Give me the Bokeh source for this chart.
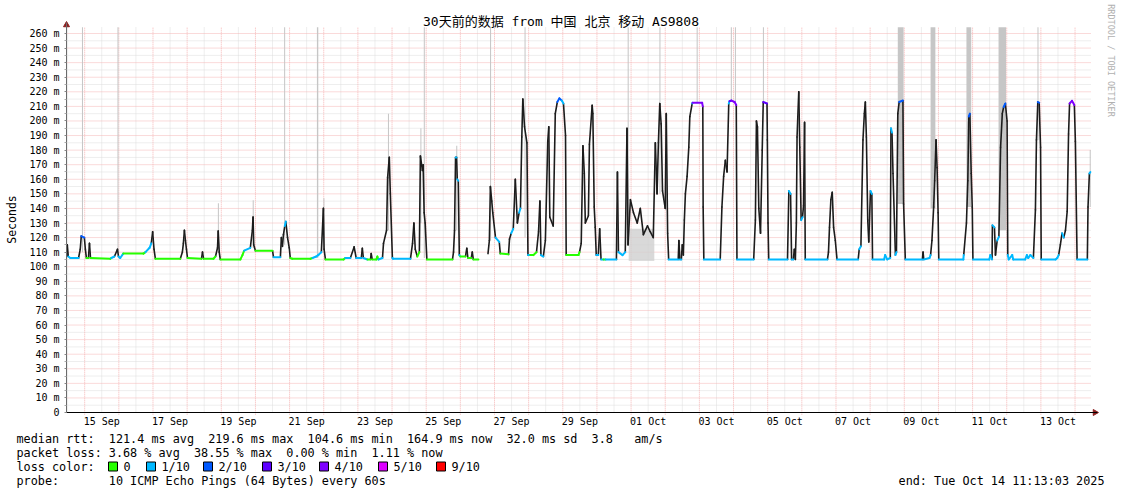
import math
from datetime import datetime, timedelta
from bokeh.plotting import figure
from bokeh.models import Range1d, FixedTicker, Label
from bokeh.embed import file_html
from bokeh.resources import INLINE

# ---------------- data ----------------
TITLE = "30天前的数据 from 中国 北京 移动 AS9808"
END_TIME = datetime(2025, 10, 14, 11, 13, 3)
START_TIME = END_TIME - timedelta(days=30)

# median rtt: day of month counted from Aug 31 00:00 (Oct 1 = 31), rtt in ms, loss level (tenths)
NAN = float("nan")
med_day = [14.48, 14.49, 14.52, 14.58, 14.82, 14.87, 14.90, 14.99, 15.02, 15.05, 15.11, 15.14, 15.17, 15.75,
           15.78, 15.87, 15.96, 15.99, 16.04, 16.13, 16.72, 16.78, 16.90, 16.95, 16.99, 17.03, 17.07, 17.80,
           17.86, 17.89, 17.92, 17.95, 17.98, 18.01, 18.42, 18.45, 18.48, 18.77, 18.83, 18.89, 18.91, 18.94,
           18.97, 19.56, 19.62, 19.67, 19.85, 19.91, 19.93, 19.95, 20.00, 20.50, 20.53, 20.73, 20.76, 20.79,
           20.82, 20.86, 20.89, 20.94, 20.99, 21.02, 21.08, 21.61, 21.67, 21.78, 21.84, 21.93, 21.99, 22.01,
           22.05, 22.58, 22.63, 22.78, 22.89, 22.95, 23.10, 23.13, 23.16, 23.28, 23.37, 23.39, 23.42, 23.54,
           23.57, 23.60, 23.72, 23.75, 23.84, 23.87, 23.92, 23.95, 24.01, 24.03, 24.54, 24.60, 24.64, 24.68,
           24.74, 24.80, 24.83, 24.89, 24.91, 24.94, 24.97, 25.02, 25.77, 25.80, 25.83, 25.86, 25.89, 25.91,
           25.94, 25.97, 26.00, 26.15, 26.19, 26.22, 26.32, 26.35, 26.38, 26.53, NAN,
           26.81, 26.85, 26.88, 26.92, 26.95, 27.03, 27.14, 27.17, 27.41, 27.44, 27.49, 27.55, 27.61, 27.67,
           27.72, 27.76, 27.80, 27.83, 27.88, 27.95, 27.98, 28.05, 28.14, 28.23, 28.29, 28.33, 28.36, 28.43,
           28.49, 28.56, 28.59, 28.62, 28.72, 28.78, 28.84, 28.90, 28.97, 29.02, 29.08, 29.10, 29.46, 29.49,
           29.54, 29.59, 29.63, 29.66, 29.75, 29.78, 29.86, 29.88, 29.92, 29.95, 29.98, 30.04, 30.08, 30.12,
           30.19, 30.25, 30.57, 30.60, 30.63, 30.75, 30.83, 30.88, 30.91, 30.98, 31.07, 31.18, 31.27, 31.36,
           31.48, 31.56, 31.65, 31.71, 31.76, 31.80, 31.84, 31.88, 31.92, 32.00, 32.03, 32.07, 32.10, 32.38,
           32.40, 32.43, 32.47, 32.50, 32.53, 32.56, 32.59, 32.64, 32.69, 32.72, 32.79, 32.80, 33.08, 33.10,
           33.11, 33.13, 33.61, 33.66, 33.71, 33.76, 33.81, 33.86, 33.88, 33.94, 34.03, 34.08, 34.10, 34.59,
           34.64, 34.67, 34.70, 34.74, 34.79, 34.84, 34.87, 34.98, 34.99, 35.01, 35.03, 35.58, 35.62, 35.67,
           35.70, 35.75, 35.78, 35.81, 35.84, 35.86, 35.91, 35.94, 35.98, 36.02, 36.05, 36.08, 36.10, 36.75,
           36.78, 36.81, 36.85, 36.89, 36.93, 36.98, 37.03, 37.65, 37.68, 37.73, 37.79, 37.83, 37.86, 37.89,
           37.93, 37.96, 38.01, 38.05, 38.07, 38.41, 38.44, 38.50, 38.59, 38.61, 38.64, 38.67, 38.74, 38.77,
           38.81, 38.85, 38.96, 38.98, 39.03, 39.53, 39.55, 39.57, 39.74, 39.77, 39.81, 39.86, 39.89, 39.93,
           39.96, 39.99, 40.01, 40.73, 40.74, 40.82, 40.86, 40.89, 40.92, 40.96, 40.99, 41.01, 41.49, 41.52,
           41.57, 41.58, 41.64, 41.67, 41.72, 41.77, 41.82, 41.87, 41.91, 41.96, 42.01, 42.03, 42.06, 42.16,
           42.19, 42.54, 42.59, 42.63, 42.69, 42.78, 42.84, 42.87, 42.91, 42.95, 42.99, 43.01, 43.43, 43.48,
           43.52, 43.57, 43.62, 43.67, 43.72, 43.77, 43.81, 43.84, 43.91, 43.98, 44.01, 44.06, 44.36, 44.38,
           44.42, 44.45]
med_ms = [107, 115, 107, 106, 106, 112, 121, 120, 112, 106, 106, 116, 106, 105.5,
          106, 107, 112, 107, 106, 109, 109, 110, 113, 116, 124, 112, 105.5, 105.5,
          110, 116, 125, 118, 112, 106, 105.5, 110, 105.5, 105.5, 107, 113, 124.5, 110,
          105, 105, 108, 111, 113, 125, 134, 115, 111, 111, 106.5, 106.5, 120, 114,
          122, 128, 131, 120, 113, 106, 105.5, 105.5, 106, 107, 108, 110, 140, 112,
          105, 105, 106, 106, 113.6, 106, 106, 112.7, 106, 105, 105, 109, 105, 105,
          107, 105, 106, 116, 125, 161, 175, 150, 106, 105.5, 105.5, 116, 130, 112,
          107, 110, 176, 166, 170, 137, 130, 105, 105, 110, 125, 175, 175, 160,
          159, 108, 107, 107, 112.7, 106, 106, 110, 105, 105, NAN,
          109, 118, 155, 145, 137, 120, 117, 109, 108.5, 119, 123, 126, 160, 130,
          137, 140, 189, 215, 196, 185, 108, 108, 108, 110, 124, 145, 108, 107,
          118, 186, 196, 134, 128, 205, 213, 215.5, 214, 212, 190, 108, 108, 110,
          116, 183, 164, 130, 135, 184, 210.8, 205, 141, 127, 108, 108, 126, 105,
          105, 105, 105, 165, 110, 108, 110, 195, 115, 146, 137, 130, 140, 122,
          128, 124, 120, 185, 150, 185, 212, 198, 152, 140, 205, 123, 105, 105,
          118, 105, 105, 115, 108, 132, 150, 162, 182, 203, 212, 212.5, 212.5, 210,
          141, 105, 105, 141, 162, 173, 165, 212, 213.5, 214, 213, 211, 105, 105,
          132, 200, 196, 140, 123, 180, 213, 212, 187, 130, 105, 105, 152, 150,
          105, 105, 112, 105, 130, 189, 220, 182, 132, 134, 142, 199, 105, 105,
          110, 127, 146, 151, 127, 118, 105, 105, 112, 114, 187, 205, 213, 189,
          132, 117, 152, 150, 105, 105, 108, 105, 106, 195, 192, 164, 108, 110,
          205, 213, 214, 143, 105, 105, 110, 105, 106, 108, 118, 141, 159, 187,
          168, 137, 105, 105, 108, 130, 159, 203, 205, 164, 141, 105, 105, 108,
          105, 128.5, 127, 108, 118, 120.5, 182, 205, 209.6, 212, 200, 108, 105, 108,
          105, 105, 108, 106, 108, 106, 139, 187, 213, 212.5, 182, 105, 105, 106,
          108, 115, 123, 120, 125, 138, 191, 212, 213.8, 211, 186, 105, 105, 141,
          164, 165]
med_loss = [1, 1, 1, 1, 1, 1, 2, 1, 1, 0, 0, 0, 0, 0,
            1, 1, 1, 1, 1, 0, 0, 1, 1, 1, 1, 1, 0, 0,
            1, 1, 1, 1, 1, 0, 0, 0, 0, 0, 1, 1, 1, 1,
            0, 0, 0, 1, 1, 1, 1, 1, 0, 0, 1, 1, 1, 1,
            1, 1, 1, 1, 1, 0, 0, 0, 1, 1, 1, 1, 1, 1,
            0, 0, 1, 1, 1, 1, 1, 1, 1, 0, 0, 0, 0, 0,
            0, 1, 1, 1, 1, 1, 1, 1, 1, 1, 1, 1, 1, 0,
            0, 0, 1, 1, 1, 1, 1, 0, 0, 1, 1, 1, 1, 1,
            1, 1, 0, 0, 0, 0, 0, 0, 0, 0, 0,
            1, 1, 1, 1, 1, 1, 1, 0, 0, 1, 1, 1, 1, 1,
            1, 1, 1, 1, 1, 1, 1, 0, 0, 1, 1, 1, 1, 1,
            1, 1, 1, 1, 1, 2, 2, 2, 1, 1, 1, 0, 0, 1,
            1, 2, 1, 1, 1, 1, 1, 1, 1, 1, 1, 1, 1, 1,
            0, 1, 1, 1, 1, 1, 1, 2, 1, 1, 1, 1, 1, 1,
            1, 1, 1, 1, 1, 1, 1, 1, 1, 1, 1, 1, 1, 1,
            1, 1, 1, 1, 1, 1, 1, 1, 1, 1, 1, 4, 4, 4,
            1, 1, 1, 1, 1, 1, 1, 1, 3, 4, 4, 4, 1, 1,
            1, 1, 1, 1, 1, 2, 3, 4, 4, 1, 1, 1, 1, 1,
            1, 1, 1, 1, 1, 1, 1, 1, 1, 1, 1, 1, 1, 1,
            1, 1, 1, 1, 1, 1, 1, 1, 1, 1, 1, 1, 1, 1,
            1, 1, 1, 1, 1, 1, 1, 1, 1, 1, 1, 1, 1, 1,
            2, 2, 2, 1, 1, 1, 1, 1, 1, 1, 1, 1, 1, 1,
            1, 1, 1, 1, 1, 1, 1, 2, 2, 1, 1, 1, 1, 1,
            1, 1, 1, 1, 1, 3, 1, 2, 2, 3, 1, 1, 1, 1,
            1, 1, 1, 1, 1, 1, 1, 1, 2, 2, 1, 1, 1, 1,
            1, 1, 1, 1, 1, 1, 1, 4, 4, 4, 1, 1, 1, 1,
            1, 1]

# smoke: individual high pings (start day, end day, bottom ms, top ms)
smoke_day0 = [14.92, 15.96, 18.90, 19.92, 20.84, 21.80, 21.99, 23.88, 24.83, 24.93, 25.88, 26.87, 27.88,
              30.90, 31.83, 32.92, 33.92, 34.04, 34.86, 38.81, 39.77, 40.82, 41.76, 42.90, 44.43]
smoke_day1 = [14.95, 15.99, 18.93, 19.95, 20.87, 21.84, 22.02, 23.91, 24.86, 24.96, 25.91, 26.90, 27.91,
              30.93, 31.86, 32.95, 33.95, 34.07, 34.89, 38.98, 39.91, 40.96, 41.98, 42.93, 44.46]
smoke_top = [264.3, 264.3, 143.6, 145.6, 264.3, 264.3, 147, 205, 195, 264.3, 183, 264.3, 264.3,
             264.3, 264.3, 264.3, 264.3, 264.3, 264.3, 264.3, 264.3, 264.3, 264.3, 264.3, 180]
smoke_bottom = [110, 110, 112, 113, 115, 106, 112, 125, 130, 106, 125, 118, 120,
                115, 150, 212, 213, 212, 213, 143, 140, 141, 125, 187, 141]
# scattered pings in the noisy stretch around 1 Oct
haze_day0 = [30.93]
haze_day1 = [31.68]
haze_low = [104]
haze_high = [126]

LOSS_LABELS = ["0", "1/10", "2/10", "3/10", "4/10", "5/10", "9/10"]
LOSS_COLORS = ["#26ff00", "#00b8ff", "#0059ff", "#5e00ff", "#7e00ff", "#dd00ff", "#ff0000"]
LOSS_LEVEL = [0, 1, 2, 3, 4, 5, 9]

STAT_RTT = ["121.4 ms avg", "219.6 ms max", "104.6 ms min", "164.9 ms now", "32.0 ms sd", "3.8", "am/s"]
STAT_LOSS = ["3.68 % avg", "38.55 % max", "0.00 % min", "1.11 % now"]
PROBE = "10 ICMP Echo Pings (64 Bytes) every 60s"

Y_TICKS = list(range(0, 261, 10))

# ---------------- helpers ----------------
EPOCH = datetime(1970, 1, 1)
DAY0 = datetime(2025, 8, 31)


def ms(dt):
    return (dt - EPOCH).total_seconds() * 1000.0


def dms(d):
    return ms(DAY0) + d * 86400000.0


W, H = 1121, 494
PAGE_L, PAGE_B = 66, 412          # graph origin in canvas pixels
PX_PER_DAY = 34.15
PX_PER_MS = 379.0 / 260.0
X0 = ms(START_TIME)


def xp(px):
    return X0 + (px - PAGE_L) / PX_PER_DAY * 86400000.0


def yp(py):
    return (PAGE_B - py) / PX_PER_MS


MONO = "DejaVu Sans Mono"
TOP = 264.3

p = figure(width=W, height=H, output_backend="svg", toolbar_location=None, title=None,
           x_range=Range1d(xp(0), xp(W)), y_range=Range1d(yp(H), yp(0)),
           min_border_left=0, min_border_right=0, min_border_top=0, min_border_bottom=0)
p.background_fill_color = "white"
p.border_fill_color = "white"
p.outline_line_color = None
p.xgrid.visible = False
p.ygrid.visible = False

# grid lines
x_end = ms(END_TIME)
ymaj = [v for v in Y_TICKS if v > 0]
ymin = [v + 5 for v in Y_TICKS if v + 5 < 264]
mids = []
noons = []
d = datetime(2025, 9, 14, 12, 0)
while d < END_TIME:
    noons.append(ms(d))
    d += timedelta(days=1)
d = datetime(2025, 9, 15)
while d < END_TIME:
    mids.append(ms(d))
    d += timedelta(days=1)
p.segment(x0=[X0] * len(ymin), x1=[x_end] * len(ymin), y0=ymin, y1=ymin,
          line_color="#dcdcdc", line_width=1, line_dash="1 1")
p.segment(x0=noons, x1=noons, y0=[0] * len(noons), y1=[TOP] * len(noons),
          line_color="#dcdcdc", line_width=1, line_dash="1 1")
p.segment(x0=[X0] * len(ymaj), x1=[x_end] * len(ymaj), y0=ymaj, y1=ymaj,
          line_color="#f5b4b4", line_width=1, line_dash="1 1")
p.segment(x0=mids, x1=mids, y0=[-1.5] * len(mids), y1=[TOP] * len(mids),
          line_color="#f5b4b4", line_width=1, line_dash="1 1")

# smoke
p.quad(left=[dms(v) for v in smoke_day0], right=[dms(v) for v in smoke_day1],
       bottom=smoke_bottom, top=smoke_top, fill_color="#c6c6c6", line_color=None)
p.quad(left=[dms(v) for v in haze_day0], right=[dms(v) for v in haze_day1],
       bottom=haze_low, top=haze_high, fill_color="#cfcfcf", fill_alpha=0.8, line_color=None)

# median line
color_of = dict(zip(LOSS_LEVEL, LOSS_COLORS))
dk = {"x0": [], "x1": [], "y0": [], "y1": []}
cl = {"x0": [], "x1": [], "y0": [], "y1": [], "c": []}
for i in range(len(med_day) - 1):
    a, b = med_day[i], med_day[i + 1]
    va, vb = med_ms[i], med_ms[i + 1]
    if math.isnan(a) or math.isnan(b):
        continue
    if abs(vb - va) < 4:
        cl["x0"].append(dms(a)); cl["x1"].append(dms(b))
        cl["y0"].append(va); cl["y1"].append(vb)
        cl["c"].append(color_of[med_loss[i]])
    else:
        dk["x0"].append(dms(a)); dk["x1"].append(dms(b))
        dk["y0"].append(va); dk["y1"].append(vb)
p.segment(x0=dk["x0"], x1=dk["x1"], y0=dk["y0"], y1=dk["y1"], line_color="#1c1c1c",
          line_width=1.6, line_cap="round")
p.segment(x0=cl["x0"], x1=cl["x1"], y0=cl["y0"], y1=cl["y1"], line_color=cl["c"],
          line_width=2, line_cap="round")

# axes (pinned inside the full-canvas frame)
xt = []
xlab = {}
d = datetime(2025, 9, 15, 12, 0)
while d < END_TIME:
    t = int(ms(d))
    xt.append(t)
    xlab[t] = d.strftime("%d %b")
    d += timedelta(days=2)
xa = p.xaxis[0]
xa.fixed_location = 0
xa.bounds = (X0, xp(1097))
xa.ticker = FixedTicker(ticks=xt, minor_ticks=[])
xa.major_label_overrides = xlab
xa.major_tick_out = 0
xa.major_tick_in = 0
xa.minor_tick_out = 0
xa.minor_tick_in = 0
xa.major_tick_line_color = None
xa.minor_tick_line_color = None
xa.axis_line_color = "#000000"
xa.major_label_text_font = MONO
xa.major_label_text_font_size = "10px"
xa.major_label_standoff = 3
xa.major_label_text_color = "#000000"

ya = p.yaxis[0]
ya.fixed_location = X0
ya.bounds = (0, yp(22))
ya.ticker = FixedTicker(ticks=Y_TICKS, minor_ticks=ymin)
ya.major_label_overrides = {v: ("0" if v == 0 else f"{v} m") for v in Y_TICKS}
ya.major_tick_out = 2
ya.major_tick_in = 0
ya.minor_tick_out = 2
ya.minor_tick_in = 0
ya.major_tick_line_color = "#888888"
ya.minor_tick_line_color = "#aaaaaa"
ya.axis_line_color = "#6a6a6a"
ya.major_label_text_font = MONO
ya.major_label_text_font_size = "10px"
ya.major_label_standoff = 5
ya.major_label_text_color = "#000000"

# axis arrows
p.scatter(x=[X0], y=[yp(24.5)], marker="triangle", size=6, color="#8b1f1f")
p.scatter(x=[xp(1094.5)], y=[0], marker="triangle", size=6, angle=-math.pi / 2, color="#8b1f1f")


def lab(px, py, text, size="11.8px", align="left", color="#000000", angle=0.0, font=MONO):
    p.add_layout(Label(x=xp(px), y=yp(py), x_units="data", y_units="data", text=text,
                       text_font=font, text_font_size=size, text_align=align,
                       text_baseline="middle", text_color=color, angle=angle))


lab(560.5, 21, TITLE, size="13px", align="center", font="DejaVu Sans Mono, Noto Sans CJK SC")
lab(11, 219, "Seconds", size="11.5px", align="center", angle=math.pi / 2)
lab(1110, 60, "RRDTOOL / TOBI OETIKER", size="8.5px", align="center", color="#b0b0b0",
    angle=-math.pi / 2)

CW = 7.1
LX = 16
lab(LX, 438, "median rtt:")
for col, s in zip([13, 27, 41, 55, 69, 81, 87], STAT_RTT):
    lab(LX + col * CW, 438, s)
lab(LX, 452, "packet loss:")
for col, s in zip([13, 25, 38, 50], STAT_LOSS):
    lab(LX + col * CW, 452, s)
lab(LX, 466, "loss color:")
box_x = [108, 146, 203, 262, 319, 378, 436]
p.scatter(x=[xp(bx + 4.5) for bx in box_x], y=[yp(466)] * len(box_x), marker="square", size=9,
          fill_color=LOSS_COLORS, line_color="#000000", line_width=1)
for bx, s in zip(box_x, LOSS_LABELS):
    lab(bx + 15, 466, s)
lab(LX, 480, "probe:")
lab(LX + 13 * CW, 480, PROBE)
lab(1104, 480, "end: " + END_TIME.strftime("%a %b %d %H:%M:%S %Y"), align="right")

open("out.html", "w").write(file_html(p, INLINE))
